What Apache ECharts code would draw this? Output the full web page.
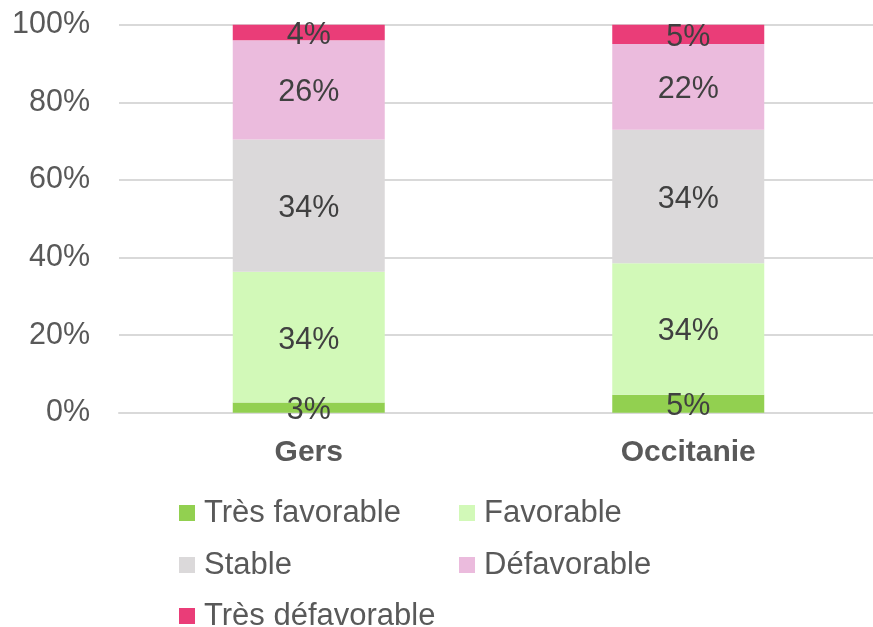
<!DOCTYPE html>
<html>
<head>
<meta charset="utf-8">
<script src="https://cdn.jsdelivr.net/npm/echarts@6/dist/echarts.min.js"></script>
<style>html,body{margin:0;padding:0;background:#fff}#c{width:873px;height:627px}</style>
</head>
<body>
<div id="c"></div>
<script>
const categories = ['Gers', 'Occitanie'];
const seriesNames = ['Très favorable', 'Favorable', 'Stable', 'Défavorable', 'Très défavorable'];
const tresFavorable = [2.6, 4.6];
const favorable = [33.7, 33.9];
const stable = [34.1, 34.4];
const defavorable = [25.6, 22.1];
const tresDefavorable = [4.0, 5.0];
const yTicks = [0, 20, 40, 60, 80, 100];

const colors = ['#92D050', '#D2F9B8', '#DBD9DA', '#EBBBDD', '#EA3D78'];
const values = [tresFavorable, favorable, stable, defavorable, tresDefavorable];
const FONT = '"Liberation Sans", Arial, sans-serif';

const chart = echarts.init(document.getElementById('c'), null, {renderer: 'canvas'});

const legendPos = [
  {left: 179, top: 496}, {left: 459, top: 496},
  {left: 179, top: 548}, {left: 459, top: 548},
  {left: 179, top: 599}
];

const option = {
  animation: false,
  textStyle: {fontFamily: FONT},
  grid: {left: 119, width: 759, top: 24.7, height: 388, containLabel: false, outerBoundsMode: 'none'},
  legend: seriesNames.map((n, i) => ({
    data: [n],
    left: legendPos[i].left,
    top: legendPos[i].top,
    orient: 'horizontal',
    itemWidth: 16,
    itemHeight: 16,
    icon: 'rect',
    selectedMode: false,
    padding: 0,
    textStyle: {fontSize: 31, color: '#595959', fontFamily: FONT, lineHeight: 32, padding: [2, 0, 0, 4]}
  })),
  xAxis: {
    type: 'category',
    data: categories,
    axisLine: {show: true, lineStyle: {color: '#D9D9D9', width: 2}},
    axisTick: {show: false},
    axisLabel: {fontSize: 30, fontWeight: 'bold', color: '#595959', fontFamily: FONT, margin: 25}
  },
  yAxis: {
    type: 'value',
    min: yTicks[0],
    max: yTicks[yTicks.length - 1],
    interval: 20,
    axisLine: {show: false},
    axisTick: {show: false},
    splitLine: {lineStyle: {color: '#D9D9D9', width: 2}},
    axisLabel: {fontSize: 30.5, color: '#595959', fontFamily: FONT, margin: 29, formatter: '{value}%'}
  },
  series: seriesNames.map((n, i) => ({
    name: n,
    type: 'bar',
    stack: 'total',
    barWidth: 152,
    data: values[i],
    itemStyle: {color: colors[i]},
    label: {
      show: true,
      position: 'inside',
      color: '#404040',
      fontSize: 30.5,
      fontFamily: FONT,
      offset: [0, 3],
      formatter: p => Math.round(p.value) + '%'
    }
  }))
};
chart.setOption(option);
</script>
</body>
</html>
